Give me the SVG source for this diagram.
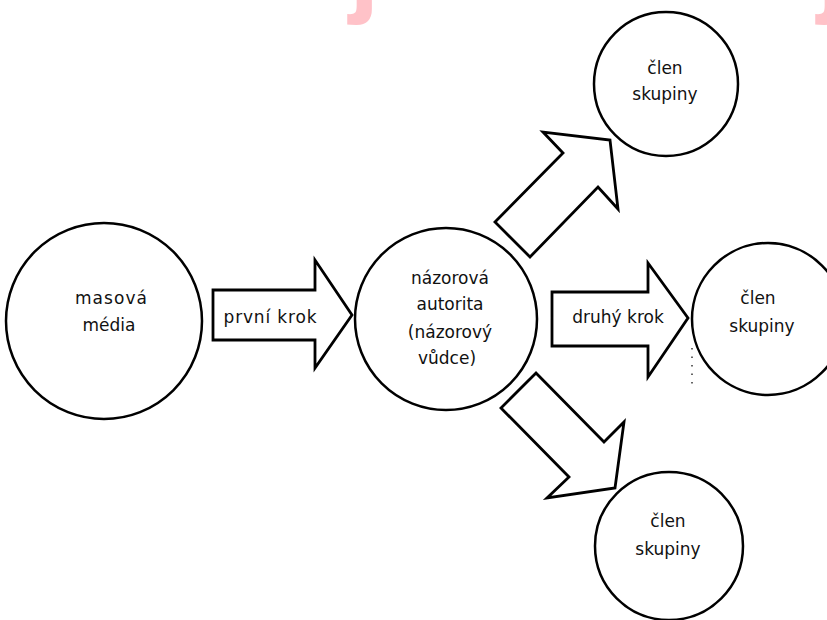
<svg xmlns="http://www.w3.org/2000/svg" width="827" height="620" viewBox="0 0 827 620">
<style>
.node{fill:#fff;stroke:#000;stroke-width:2.5}
.arrow{fill:#fff;stroke:#000;stroke-width:2.8;stroke-linejoin:miter}
.t{font-family:"DejaVu Sans","Liberation Sans",sans-serif;font-size:17px;fill:#111;text-anchor:middle}
.wm{font-family:"Liberation Sans",sans-serif;font-weight:bold;fill:#ffc2c8}
</style>
<rect width="827" height="620" fill="#fff"/>
<g id="watermark">
<text class="wm" x="349" y="2" font-size="110">j</text>
<text class="wm" x="817" y="2" font-size="110">j</text>
</g>
<g id="connectors">
<path class="arrow" d="M213,290 H315 V260 L352,315 L315,368 V340 H213 Z"/>
<text class="t" x="270" y="323" textLength="93">první krok</text>
<path class="arrow" d="M552,292 H648 V263 L688,318 L648,377 V346 H552 Z"/>
<text class="t" x="618" y="323">druhý krok</text>
<path class="arrow" d="M495,222 L563,153 L543,132 L610,140 L618,209 L598,187 L530,257 Z"/>
<path class="arrow" d="M501,408 L536,373 L604,442 L624,422 L615,488 L547,498 L569,477 Z"/>
<line x1="692" y1="348" x2="692" y2="384" stroke="#333" stroke-width="1.5" stroke-dasharray="1.5 7"/>
</g>
<g id="masova-media">
<circle class="node" cx="104" cy="321" r="98"/>
<text class="t" x="111" y="304" textLength="72">masová</text>
<text class="t" x="109" y="331">média</text>
</g>
<g id="nazorova-autorita">
<circle class="node" cx="446" cy="319" r="91"/>
<text class="t" x="450" y="284">názorová</text>
<text class="t" x="450" y="310">autorita</text>
<text class="t" x="450" y="338">(názorový</text>
<text class="t" x="447" y="364">vůdce)</text>
</g>
<g id="clen-top">
<circle class="node" cx="666" cy="84" r="72"/>
<text class="t" x="665" y="74">člen</text>
<text class="t" x="665" y="100">skupiny</text>
</g>
<g id="clen-right">
<circle class="node" cx="768" cy="319" r="76"/>
<text class="t" x="758" y="304">člen</text>
<text class="t" x="762" y="332">skupiny</text>
</g>
<g id="clen-bottom">
<circle class="node" cx="669" cy="546" r="74"/>
<text class="t" x="668" y="527">člen</text>
<text class="t" x="668" y="555">skupiny</text>
</g>
</svg>
